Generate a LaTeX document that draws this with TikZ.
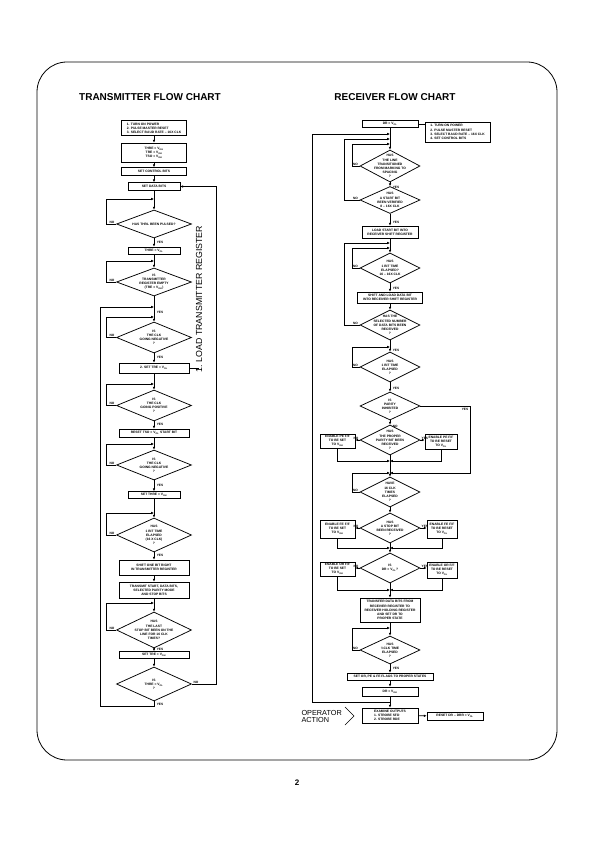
\documentclass[tikz,border=0pt]{standalone}
\usepackage{fontspec}
\setmainfont{Liberation Sans}
\usetikzlibrary{shapes.geometric,arrows.meta}
\newcommand\boxfont{\fontsize{3.3}{4.1}\selectfont\bfseries}
\newcommand\labfont{\fontsize{3.2}{3.6}\selectfont\bfseries}
\newcommand\VOH{V\textsubscript{OH}}
\newcommand\VOL{V\textsubscript{OL}}
\begin{document}
\begin{tikzpicture}[x=1pt,y=-1pt,
  bx/.style n args={2}{draw, line width=0.75pt, rectangle, minimum width=#1pt, minimum height=#2pt, inner sep=0.4pt, align=center, font=\boxfont},
  dia/.style n args={2}{draw, line width=0.75pt, diamond, minimum width=#1pt, minimum height=#2pt, inner sep=0pt},
  dt/.style={align=center, font=\boxfont, inner sep=0pt},
  flow/.style={line width=0.75pt, -{Latex[length=2.8pt,width=2.6pt]}},
  ln/.style={line width=0.75pt},
  lab/.style={font=\labfont, inner sep=0.6pt}]
\useasboundingbox (0,0) rectangle (595,842);
% page frame
\draw[line width=0.8pt, rounded corners=30pt] (37,62) rectangle (557,760);
\node[font=\fontsize{10}{12}\selectfont\bfseries] (tt1) at (150,97) {TRANSMITTER FLOW CHART};
\node[font=\fontsize{10}{12}\selectfont\bfseries] (tt2) at (395,97) {RECEIVER FLOW CHART};
\node[font=\fontsize{8}{9}\selectfont\bfseries] (pg) at (297,783) {2};

% ---------------- transmitter ----------------
\node[bx={65}{15}, align=left] (t1) at (154,128) {1. TURN ON POWER\\2. PULSE MASTER RESET\\3. SELECT BAUD RATE – 16X CLK};
\node[bx={65}{19}] (t2) at (154,152.5) {THRE = \VOH\\TRE = \VOH\\TSO = \VOH};
\node[bx={65}{8}] (t3) at (154,171.5) {SET CONTROL BITS};
\node[bx={52}{8}] (t4) at (154,186.5) {SET DATA BITS};
\coordinate (j1) at (154,199);
\node[dia={75}{28}, label={[dt]center:{HAS THRL BEEN PULSED?}}] (d1) at (154,224) {};
\node[bx={52}{7}] (t5) at (154,250.5) {THRE = \VOL};
\coordinate (j2) at (154,261);
\node[dia={75}{28}, label={[dt]center:{IS\\TRANSMITTER\\REGISTER EMPTY\\(TRE = \VOH)}}] (d2) at (154,282) {};
\coordinate (j3) at (154,307);
\coordinate (j4) at (154,317);
\node[dia={75}{31}, label={[dt]center:{IS\\THE CLK\\GOING NEGATIVE\\?}}] (d3) at (154,337.5) {};
\node[bx={70}{10}] (t6) at (154,368) {2. SET TRE = \VOL};
\coordinate (j5) at (154,384);
\node[dia={75}{31}, label={[dt]center:{IS\\THE CLK\\GOING POSITIVE\\?}}] (d4) at (154,405.5) {};
\node[bx={70}{8}] (t7) at (154,433) {RESET TSO = \VOL\ START BIT};
\coordinate (j6) at (154,444);
\node[dia={75}{30}, label={[dt]center:{IS\\THE CLK\\GOING NEGATIVE\\?}}] (d5) at (154,465) {};
\node[bx={52}{7}] (t8) at (154,495) {SET THRE = \VOH};
\coordinate (j7) at (154,513);
\node[dia={75}{34}, label={[dt]center:{HAS\\1 BIT TIME\\ELAPSED\\(16 X CLK)\\?}}] (d6) at (154,535) {};
\node[bx={70}{15}] (t9) at (154,567.5) {SHIFT ONE BIT RIGHT\\IN TRANSMITTER REGISTER};
\node[bx={70}{16}] (t10) at (154,590) {TRANSMIT START, DATA BITS,\\SELECTED PARITY MODE\\AND STOP BITS};
\coordinate (j8) at (154,603);
\node[dia={75}{36}, label={[dt]center:{HAS\\THE LAST\\STOP BIT BEEN ON THE\\LINE FOR 16 CLK\\TIMES?}}] (d7) at (154,630) {};
\node[bx={70}{7}] (t11) at (154,655) {SET TRE = \VOH};
\node[dia={75}{34}, label={[dt]center:{IS\\THRE = \VOL\\?}}] (d8) at (154,684) {};
\coordinate (c1) at (154,706);
\coordinate (c2) at (100,706);
\node[font=\fontsize{8.8}{9}\selectfont, rotate=90, anchor=west, inner sep=0pt] (lt) at (199,373) {1. LOAD TRANSMITTER REGISTER};

\draw[flow] (t1) -- (t2);
\draw[flow] (t2) -- (t3);
\draw[flow] (t3) -- (t4);
\draw[flow] (t4) -- (d1);
\draw[flow] (d1.west) -- ++(-10,0) |- (j1);
\draw[flow] (d1) -- (t5);
\draw[flow] (t5) -- (d2);
\draw[flow] (d2.west) -- ++(-10,0) |- (j2);
\draw[flow] (d2) -- (d3);
\draw[flow] (d3.west) -- ++(-10,0) |- (j4);
\draw[flow] (d3) -- (t6);
\draw[flow] (t6) -- (d4);
\draw[flow] (d4.west) -- ++(-10,0) |- (j5);
\draw[flow] (d4) -- (t7);
\draw[flow] (t7) -- (d5);
\draw[flow] (d5.west) -- ++(-10,0) |- (j6);
\draw[flow] (d5) -- (t8);
\draw[flow] (t8) -- (d6);
\draw[flow] (d6.west) -- ++(-10,0) |- (j7);
\draw[flow] (d6) -- (t9);
\draw[flow] (t9) -- (t10);
\draw[flow] (t10) -- (d7);
\draw[flow] (d7.west) -- ++(-10,0) |- (j8);
\draw[flow] (d7) -- (t11);
\draw[flow] (t11) -- (d8);
\draw[flow] (d8.south) -- (c1) -- (c2) |- (j3);
\draw[flow] (d8.east) -- ++(24,0) |- (t4.east);
\draw[ln] (t6.east) -- (t6.east -| lt.center);

\foreach \d in {d1,d2,d3,d4,d5,d6,d7}{\node[lab, anchor=south east] at ([xshift=-1pt]\d.west) {NO};}
\node[lab, anchor=south west] at ([xshift=1pt]d8.east) {NO};
\foreach \yy in {242,312,357,424,485,555,649,704}{\node[lab, anchor=west] at (156,\yy) {YES};}

% ---------------- receiver ----------------
\node[bx={56}{7}] (r0) at (390,124) {DR = \VOL};
\node[bx={65}{20}, align=left] (note) at (457.5,132) {1. TURN ON POWER\\2. PULSE MASTER RESET\\3. SELECT BAUD RATE – 16X CLK\\4. SET CONTROL BITS};
\coordinate (ja) at (390,134);
\coordinate (jb) at (390,139);
\coordinate (jc) at (390,144);
\node[dia={60}{32}, label={[dt]center:{HAS\\THE LINE\\TRANSITIONED\\FROM MARKING TO\\SPACING\\?}}] (R1) at (390,166) {};
\node[dia={60}{27}, label={[dt]center:{HAS\\A START BIT\\BEEN VERIFIED\\8 – 16X CLK}}] (R2) at (390,200) {};
\node[bx={56}{12}] (rb1) at (390,232) {LOAD START BIT INTO\\RECEIVER SHIFT REGISTER};
\coordinate (jd) at (390,243);
\coordinate (je) at (390,248);
\node[dia={60}{30}, label={[dt]center:{HAS\\1 BIT TIME\\ELAPSED?\\16 – 16X CLK}}] (R3) at (390,268) {};
\node[bx={65}{11}] (rb2) at (390,297.5) {SHIFT AND LOAD DATA BIT\\INTO RECEIVER SHIFT REGISTER};
\node[dia={60}{30}, label={[dt]center:{HAS THE\\SELECTED NUMBER\\OF DATA BITS BEEN\\RECEIVED\\?}}] (R4) at (390,325) {};
\coordinate (jf) at (390,347);
\node[dia={60}{30}, label={[dt]center:{HAS\\1 BIT TIME\\ELAPSED\\?}}] (R5) at (390,367) {};
\node[dia={60}{28}, label={[dt]center:{IS\\PARITY\\INHIBITED\\?}}] (R6) at (390,406) {};
\node[dia={60}{30}, label={[dt]center:{HAS\\THE PROPER\\PARITY BIT BEEN\\RECEIVED\\?}}] (R7) at (390,440) {};
\node[bx={35}{14}] (pe1) at (337.5,441) {ENABLE PE F/F\\TO BE SET\\TO \VOH};
\node[bx={32}{15}] (pe2) at (441,442) {ENABLE PE F/F\\TO BE RESET\\TO \VOL};
\coordinate (m1) at (390,461);
\coordinate (m2) at (390,473);
\node[dia={60}{30}, label={[dt]center:{HAVE\\16 CLK\\TIMES\\ELAPSED\\?}}] (R8) at (390,492) {};
\node[dia={60}{30}, label={[dt]center:{HAS\\A STOP BIT\\BEEN RECEIVED\\?}}] (R9) at (390,528) {};
\node[bx={35}{18}] (fe1) at (337.5,529) {ENABLE FE F/F\\TO BE SET\\TO \VOH};
\node[bx={30}{18}] (fe2) at (442,529) {ENABLE FE F/F\\TO BE RESET\\TO \VOL};
\coordinate (m3) at (390,548);
\node[dia={60}{30}, label={[dt]center:{IS\\DR = \VOL?}}] (R10) at (390,568) {};
\node[bx={35}{14}] (or1) at (337.5,569) {ENABLE OR F/F\\TO BE SET\\TO \VOH};
\node[bx={30}{16}] (or2) at (442,570) {ENABLE OR F/F\\TO BE RESET\\TO \VOL};
\coordinate (m4) at (390,590);
\node[bx={60}{24}] (rb3) at (390,610) {TRANSFER DATA BITS FROM\\RECEIVER REGISTER TO\\RECEIVER HOLDING REGISTER\\AND SET DR TO\\PROPER STATE};
\coordinate (jg) at (390,628);
\node[dia={60}{28}, label={[dt]center:{HAS\\½CLK TIME\\ELAPSED\\?}}] (R11) at (390,650) {};
\node[bx={86}{7}] (rb4) at (390,676.5) {SET OR, PE \& FE FLAGS TO PROPER STATES};
\node[bx={56}{9}] (rb5) at (390,691.5) {DR = \VOH};
\coordinate (jh) at (390,702);
\coordinate (oc) at (312,702);
\node[bx={56}{15}, align=left] (rb6) at (390,715.5) {EXAMINE OUTPUTS\\1. STROBE SFD\\2. STROBE RDE};
\node[bx={56}{8}] (rb7) at (455,716) {RESET DR – DRR = \VOL};
\node[font=\fontsize{7.3}{7.6}\selectfont, align=left, anchor=east, inner sep=0pt] (op) at (342,716.5) {OPERATOR\\ACTION};
\draw[line width=0.6pt] (345,707) -- (354,716) -- (345,725);

\draw[ln] (note.west |- r0) -- (r0.east);
\draw[flow] (r0) -- (R1);
\draw[flow] (R1.west) -- ++(-7,0) |- (jc);
\draw[flow] (R1) -- (R2);
\draw[flow] (R2.west) -- ++(-15,0) |- (jb);
\draw[flow] (R2) -- (rb1);
\draw[flow] (rb1) -- (R3);
\draw[flow] (R3.west) -- ++(-7,0) |- (je);
\draw[flow] (R3) -- (rb2);
\draw[flow] (rb2) -- (R4);
\draw[flow] (R4.west) -- ++(-15,0) |- (jd);
\draw[flow] (R4) -- (R5);
\draw[flow] (R5.west) -- ++(-7,0) |- (jf);
\draw[flow] (R5) -- (R6);
\draw[flow] (R6.east) -- ++(50,0) |- (m2);
\draw[flow] (R6) -- (R7);
\draw[flow] (R7.west) -- (R7.west -| pe1.east);
\draw[flow] (R7.east) -- (R7.east -| pe2.west);
\draw[flow] (pe1.south) |- (m1);
\draw[flow] (pe2.south) |- (m1);
\draw[flow] (R7) -- (R8);
\draw[flow] (R8.west) -- ++(-7,0) |- (m2);
\draw[flow] (R8) -- (R9);
\draw[flow] (R9.west) -- (R9.west -| fe1.east);
\draw[flow] (R9.east) -- (R9.east -| fe2.west);
\draw[flow] (fe1.south) |- (m3);
\draw[flow] (fe2.south) |- (m3);
\draw[flow] (R9) -- (R10);
\draw[flow] (R10.west) -- (R10.west -| or1.east);
\draw[flow] (R10.east) -- (R10.east -| or2.west);
\draw[flow] (or1.south) |- (m4);
\draw[flow] (or2.south) |- (m4);
\draw[flow] (R10) -- (rb3);
\draw[flow] (rb3) -- (R11);
\draw[flow] (R11.west) -- ++(-7,0) |- (jg);
\draw[flow] (R11) -- (rb4);
\draw[flow] (rb4) -- (rb5);
\draw[flow] (rb5) -- (rb6);
\draw[flow] (jh) -- (oc) |- (ja);
\draw[flow] (rb6) -- (rb7);

\foreach \d in {R1,R2,R3,R4,R5,R8,R11}{\node[lab, anchor=south east] at ([xshift=-1pt]\d.west) {NO};}
\foreach \d in {R7,R9,R10}{\node[lab, anchor=south east] at ([xshift=-0.5pt]\d.west) {NO};
  \node[lab, anchor=south west] at ([xshift=0.5pt]\d.east) {YES};}
\foreach \yy in {187,222,288,350,388,668}{\node[lab, anchor=west] at (392,\yy) {YES};}
\node[lab, anchor=west] at (392,426) {NO};
\node[lab, anchor=north east] at (469,407) {YES};
\end{tikzpicture}
\end{document}
